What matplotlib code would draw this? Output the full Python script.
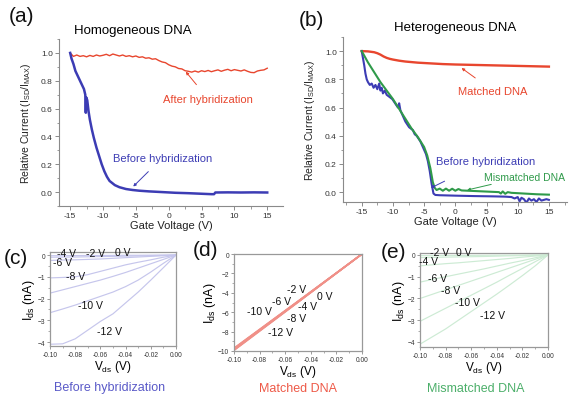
import numpy as np
import matplotlib
matplotlib.use("Agg")
import matplotlib.pyplot as plt
from matplotlib.ticker import MultipleLocator

plt.rcParams['font.family'] = ['Liberation Sans', 'DejaVu Sans']
plt.rcParams['mathtext.fontset'] = 'custom'
plt.rcParams['mathtext.rm'] = 'Liberation Sans'
plt.rcParams['mathtext.it'] = 'Liberation Sans'

# ---- panel (a): homogeneous DNA ----
a_after_v = [-15, -14.5, -14, -13.5, -13, -12.5, -12, -11.5, -11, -10.5, -10, -9.5, -9, -8.5, -8,
             -7.5, -7, -6.5, -6, -5.5, -5, -4.5, -4, -3.5, -3, -2.5, -2, -1.5, -1, -0.5, 0,
             0.5, 1, 1.5, 2, 2.5, 3, 3.5, 4, 4.5, 5, 5.5, 6, 6.5, 7, 7.5, 8, 8.5, 9, 9.5, 10,
             10.5, 11, 11.5, 12, 12.5, 13, 13.5, 14, 14.5, 15]
a_after_i = [1.00, 0.975, 0.985, 0.975, 0.98, 0.972, 0.982, 0.975, 0.985, 0.978, 0.983, 0.99, 0.98,
             0.992, 0.985, 0.978, 0.985, 0.975, 0.98, 0.972, 0.978, 0.968, 0.972, 0.962, 0.965,
             0.955, 0.958, 0.945, 0.935, 0.93, 0.915, 0.905, 0.90, 0.888, 0.885, 0.872, 0.868,
             0.862, 0.87, 0.862, 0.872, 0.866, 0.874, 0.865, 0.872, 0.878, 0.868, 0.876, 0.882,
             0.872, 0.88, 0.875, 0.87, 0.878, 0.868, 0.86, 0.858, 0.87, 0.875, 0.878, 0.89]
a_before_v = [-15, -14.8, -14.5, -14.2, -14.0, -13.7, -13.4, -13.1, -12.9, -12.7, -12.62, -12.55,
              -12.4, -12.2, -12.0, -11.7, -11.4, -11.0, -10.6, -10.2, -9.8, -9.4, -9.0, -8.6,
              -8.2, -7.5, -6.5, -5.5, -4.5, -3.0, -1.0, 1.0, 3.0, 5.0, 6.5, 6.9, 7.1, 9, 11, 13, 15]
a_before_i = [1.0, 0.96, 0.92, 0.87, 0.85, 0.82, 0.79, 0.76, 0.74, 0.70, 0.57, 0.68,
              0.66, 0.58, 0.52, 0.45, 0.39, 0.32, 0.26, 0.20, 0.15, 0.11, 0.08, 0.065,
              0.05, 0.035, 0.022, 0.015, 0.01, 0.005, 0.0, -0.005, -0.008, -0.012, -0.015,
              -0.015, -0.003, -0.002, -0.003, -0.002, -0.003]

# ---- panel (b): heterogeneous DNA ----
b_match_v = [-15, -14, -13, -12.5, -12, -11.5, -11, -10.5, -10, -9, -8, -7, -6, -4, -2, 0, 2, 4,
             6, 8, 10, 12, 14, 15]
b_match_i = [1.0, 0.998, 0.992, 0.985, 0.975, 0.962, 0.952, 0.945, 0.94, 0.932, 0.926, 0.922,
             0.918, 0.913, 0.908, 0.905, 0.903, 0.901, 0.899, 0.897, 0.895, 0.893, 0.891, 0.89]
b_mis_v = [-15, -14, -13, -12, -11, -10, -9, -8, -7, -6, -5, -4.5, -4, -3.6, -3.3, -3, -2.5, -2,
           -1.5, -1, -0.5, 0, 0.5, 1, 2, 3, 4, 5, 6, 7, 7.3, 7.6, 8, 8.4, 9, 11, 13, 15]
b_mis_i = [1.0, 0.92, 0.85, 0.78, 0.72, 0.66, 0.59, 0.52, 0.45, 0.39, 0.32, 0.26, 0.17, 0.07,
           0.03, 0.015, 0.025, 0.01, 0.025, 0.01, 0.024, 0.01, 0.022, 0.012, 0.01, 0.008, 0.006,
           0.004, 0.002, 0.0, -0.01, 0.005, -0.012, 0.0, -0.005, -0.01, -0.015, -0.018]
b_before_v = [-15, -14.8, -14.6, -14.4, -14.2, -14.0, -13.7, -13.4, -13.1, -12.8, -12.5, -12.2,
              -12.0, -11.8, -11.6, -11.3, -11.0, -10.7, -10.4, -10.1, -9.8, -9.5, -9.2, -9.0,
              -8.8, -8.5, -8.2, -8.0, -7.7, -7.4, -7.1, -6.8, -6.5, -6.2, -5.9, -5.6, -5.3,
              -5.0, -4.7, -4.4, -4.1, -3.8, -3.5, -3.2, -2.5, 0, 3, 6, 8, 9, 9.5, 10, 10.3,
              10.6, 11, 11.4, 11.8, 12.2, 12.6, 13, 13.4, 13.8, 14.2, 14.6, 15]
b_before_i = [1.0, 0.95, 0.9, 0.84, 0.8, 0.78, 0.76, 0.77, 0.74, 0.76, 0.73, 0.77, 0.72, 0.74,
              0.70, 0.72, 0.69, 0.68, 0.67, 0.66, 0.64, 0.62, 0.60, 0.63, 0.58, 0.55, 0.52,
              0.50, 0.48, 0.46, 0.45, 0.44, 0.41, 0.40, 0.38, 0.36, 0.33, 0.30, 0.27, 0.22,
              0.15, 0.06, -0.01, -0.02, -0.022, -0.025, -0.028, -0.03, -0.032, -0.035, -0.045,
              -0.035, -0.065, -0.04, -0.05, -0.075, -0.045, -0.06, -0.05, -0.07, -0.045, -0.06,
              -0.055, -0.05, -0.055]

# ---- panels (c)-(e): I-V curves at several gate voltages ----
vds = [-0.10, -0.09, -0.08, -0.07, -0.06, -0.05, -0.04, -0.03, -0.02, -0.01, 0.0]
c_curves = {
    '0 V':   [-0.03, -0.03, -0.025, -0.02, -0.02, -0.015, -0.01, -0.01, -0.005, 0, 0],
    '-2 V':  [-0.1, -0.095, -0.09, -0.08, -0.07, -0.06, -0.05, -0.04, -0.03, -0.015, 0],
    '-4 V':  [-0.25, -0.23, -0.22, -0.2, -0.18, -0.15, -0.12, -0.09, -0.06, -0.03, 0],
    '-6 V':  [-1.05, -1.03, -1.0, -0.9, -0.75, -0.6, -0.45, -0.33, -0.22, -0.1, 0],
    '-8 V':  [-1.75, -1.6, -1.45, -1.3, -1.15, -0.98, -0.8, -0.6, -0.4, -0.2, 0],
    '-10 V': [-2.65, -2.48, -2.3, -2.1, -1.9, -1.7, -1.45, -1.15, -0.78, -0.38, 0],
    '-12 V': [-4.1, -4.08, -3.85, -3.45, -3.05, -2.7, -2.2, -1.7, -1.15, -0.58, 0],
}
e_curves = {
    '0 V':   [-0.03, -0.028, -0.025, -0.022, -0.02, -0.016, -0.012, -0.01, -0.006, -0.003, 0],
    '-2 V':  [-0.12, -0.11, -0.1, -0.09, -0.08, -0.07, -0.055, -0.04, -0.03, -0.015, 0],
    '-4 V':  [-0.5, -0.45, -0.4, -0.36, -0.31, -0.26, -0.21, -0.16, -0.1, -0.05, 0],
    '-6 V':  [-1.25, -1.12, -1.0, -0.88, -0.76, -0.64, -0.51, -0.38, -0.26, -0.13, 0],
    '-8 V':  [-2.0, -1.8, -1.6, -1.4, -1.2, -1.0, -0.8, -0.6, -0.4, -0.2, 0],
    '-10 V': [-3.05, -2.75, -2.45, -2.15, -1.85, -1.55, -1.25, -0.93, -0.62, -0.31, 0],
    '-12 V': [-4.1, -3.75, -3.4, -3.0, -2.6, -2.2, -1.8, -1.38, -0.95, -0.5, 0],
}
d_vds = [-0.10, -0.05, 0.0]
d_curves = {
    '0 V': [-9.70, -4.86, 0], '-2 V': [-9.74, -4.88, 0], '-4 V': [-9.78, -4.90, 0],
    '-6 V': [-9.82, -4.92, 0], '-8 V': [-9.86, -4.94, 0], '-10 V': [-9.90, -4.96, 0],
    '-12 V': [-9.94, -4.98, 0],
}

# label positions (data coords) for the gate voltages
c_lab = {'-4 V': (-0.087, 0.09), '-2 V': (-0.064, 0.09), '0 V': (-0.042, 0.12),
         '-6 V': (-0.09, -0.32), '-8 V': (-0.08, -0.97), '-10 V': (-0.068, -2.3),
         '-12 V': (-0.053, -3.5)}
d_lab = {'-2 V': (-0.051, -3.6), '0 V': (-0.029, -4.3), '-6 V': (-0.063, -4.8),
         '-4 V': (-0.0425, -5.4), '-10 V': (-0.080, -5.9), '-8 V': (-0.051, -6.6),
         '-12 V': (-0.064, -8.0)}
e_lab = {'-2 V': (-0.085, 0.14), '0 V': (-0.066, 0.14), '-4 V': (-0.093, -0.3),
         '-6 V': (-0.086, -1.06), '-8 V': (-0.076, -1.61), '-10 V': (-0.063, -2.17),
         '-12 V': (-0.043, -2.76)}

RED = '#e8462e'
BLUE = '#3c3cb4'
GREEN = '#2f9a4a'
GRAY = '#8a8a8a'

W, H = 570, 402
fig = plt.figure(figsize=(W / 100, H / 100), dpi=100)


def px_axes(l, t, r, b):
    return fig.add_axes([l / W, 1 - b / H, (r - l) / W, (b - t) / H])


def px_text(x, y, s, **kw):
    fig.text(x / W, 1 - y / H, s, **kw)


def style_gate(ax):
    for s in ('top', 'right'):
        ax.spines[s].set_visible(False)
    for s in ('left', 'bottom'):
        ax.spines[s].set_color(GRAY)
        ax.spines[s].set_linewidth(0.8)
    ax.xaxis.set_minor_locator(MultipleLocator(2.5))
    ax.yaxis.set_minor_locator(MultipleLocator(0.1))
    ax.tick_params(which='both', direction='out', color=GRAY, labelsize=6,
                   labelcolor='#333333', pad=1.5)
    ax.tick_params(which='major', length=3, width=0.7)
    ax.tick_params(which='minor', length=1.8, width=0.6)
    ax.set_xticks([-15, -10, -5, 0, 5, 10, 15])
    ax.set_xticklabels(['-15', '-10', '-5', '0', '5', '10', '15'])
    ax.set_yticks([0, 0.2, 0.4, 0.6, 0.8, 1.0])
    ax.set_yticklabels(['0.0', '0.2', '0.4', '0.6', '0.8', '1.0'])
    ax.set_xlabel('Gate Voltage (V)', fontsize=8, labelpad=0.8, color='#222222')
    ax.set_ylabel(r'Relative Current (I$_{\mathrm{SD}}$/I$_{\mathrm{MAX}}$)', fontsize=7.5,
                  labelpad=2, color='#222222')


def style_iv(ax):
    for s in ax.spines.values():
        s.set_color('#999999')
        s.set_linewidth(0.9)
    ax.tick_params(which='both', direction='out', color=GRAY, labelsize=4.8,
                   labelcolor='#333333', pad=1.2)
    ax.tick_params(which='major', length=2.2, width=0.6)
    ax.tick_params(which='minor', length=1.2, width=0.5)
    ax.set_xticks([-0.10, -0.08, -0.06, -0.04, -0.02, 0.0])
    ax.set_xticklabels(['-0.10', '-0.08', '-0.06', '-0.04', '-0.02', '0.00'])
    ax.xaxis.set_minor_locator(MultipleLocator(0.01))
    ax.set_xlabel(r'V$_{\mathrm{ds}}$ (V)', fontsize=8.5, labelpad=0)
    ax.set_ylabel(r'I$_{\mathrm{ds}}$ (nA)', fontsize=9, labelpad=0.3)


# (a)
ax_a = px_axes(59, 40, 283, 207)
ax_a.plot(a_after_v, a_after_i, color=RED, lw=1.0)
ax_a.plot(a_before_v, a_before_i, color=BLUE, lw=1.8)
ax_a.set_xlim(-16.7, 17.4)
ax_a.set_ylim(-0.10, 1.10)
style_gate(ax_a)
ax_a.yaxis.set_label_coords(-0.115, 0.5)
ax_a.set_title('Homogeneous DNA', fontsize=9.5, pad=4, x=0.33)
ax_a.annotate('After hybridization', xy=(2.6, 0.865), xytext=(6.0, 0.67), fontsize=8,
              color=RED, ha='center', va='center',
              arrowprops=dict(arrowstyle='-|>', color=RED, lw=0.7, mutation_scale=4,
                              shrinkA=6, shrinkB=0))
ax_a.annotate('Before hybridization', xy=(-5.4, 0.04), xytext=(-1.0, 0.245), fontsize=8,
              color=BLUE, ha='center', va='center',
              arrowprops=dict(arrowstyle='-|>', color=BLUE, lw=0.7, mutation_scale=4,
                              shrinkA=6, shrinkB=0))

# (b)
ax_b = px_axes(343, 38, 567, 203)
ax_b.plot(b_match_v, b_match_i, color=RED, lw=1.7)
ax_b.plot(b_before_v, b_before_i, color=BLUE, lw=1.5)
ax_b.plot(b_mis_v, b_mis_i, color=GREEN, lw=1.5)
ax_b.set_xlim(-18.0, 17.9)
ax_b.set_ylim(-0.07, 1.10)
style_gate(ax_b)
ax_b.yaxis.set_label_coords(-0.115, 0.5)
ax_b.set_title('Heterogeneous DNA', fontsize=9.5, pad=5, x=0.5)
ax_b.annotate('Matched DNA', xy=(1.0, 0.88), xytext=(6.0, 0.72), fontsize=8,
              color=RED, ha='center', va='center',
              arrowprops=dict(arrowstyle='-|>', color=RED, lw=0.7, mutation_scale=4,
                              shrinkA=6, shrinkB=0))
ax_b.annotate('Before hybridization', xy=(-3.9, 0.03), xytext=(4.8, 0.22), fontsize=8,
              color=BLUE, ha='center', va='center',
              arrowprops=dict(arrowstyle='-|>', color=BLUE, lw=0.7, mutation_scale=4,
                              shrinkA=20, shrinkB=0))
ax_b.annotate('Mismatched DNA', xy=(1.9, 0.015), xytext=(11.1, 0.11), fontsize=7.5,
              color=GREEN, ha='center', va='center', annotation_clip=False,
              arrowprops=dict(arrowstyle='-|>', color=GREEN, lw=0.7, mutation_scale=4,
                              shrinkA=18, shrinkB=0))

# (c)
ax_c = px_axes(50, 253, 176, 347)
for lab, vals in c_curves.items():
    ax_c.plot(vds, vals, color='#c6c6ec', lw=0.85)
for lab, (x, y) in c_lab.items():
    ax_c.text(x, y, lab, fontsize=7.5, ha='center', va='center', color='#111111')
ax_c.set_xlim(-0.1, 0.0)
ax_c.set_ylim(-4.18, 0.14)
ax_c.set_yticks([0, -1, -2, -3, -4])
ax_c.yaxis.set_minor_locator(MultipleLocator(0.5))
style_iv(ax_c)

# (d)
ax_d = px_axes(234, 255, 362, 352)
for lab, vals in d_curves.items():
    ax_d.plot(d_vds, vals, color='#f09088', lw=1.1)
for lab, (x, y) in d_lab.items():
    ax_d.text(x, y, lab, fontsize=7.5, ha='center', va='center', color='#111111')
ax_d.set_xlim(-0.1, 0.0)
ax_d.set_ylim(-10, 0)
ax_d.set_yticks([0, -2, -4, -6, -8, -10])
ax_d.yaxis.set_minor_locator(MultipleLocator(1))
style_iv(ax_d)

# (e)
ax_e = px_axes(420, 254, 548, 348)
for lab, vals in e_curves.items():
    ax_e.plot(vds, vals, color='#cdebd4', lw=0.85)
for lab, (x, y) in e_lab.items():
    ax_e.text(x, y, lab, fontsize=7.5, ha='center', va='center', color='#111111')
ax_e.set_xlim(-0.1, 0.0)
ax_e.set_ylim(-4.23, 0.09)
ax_e.set_yticks([0, -1, -2, -3, -4])
ax_e.yaxis.set_minor_locator(MultipleLocator(0.5))
style_iv(ax_e)

# panel letters and captions
for x, y, s in [(22, 17, '(a)'), (311, 20, '(b)'), (16, 259, '(c)'),
                (206, 251, '(d)'), (393, 253, '(e)')]:
    px_text(x, y, s, fontsize=15, ha='center', va='center', color='#111111')

px_text(110, 388, 'Before hybridization', fontsize=9, color='#5a5ac8', ha='center', va='center')
px_text(298, 389, 'Matched DNA', fontsize=9, color='#ee5a48', ha='center', va='center')
px_text(476, 389, 'Mismatched DNA', fontsize=9, color='#4caf6a', ha='center', va='center')

fig.savefig('out.png', dpi=100)
